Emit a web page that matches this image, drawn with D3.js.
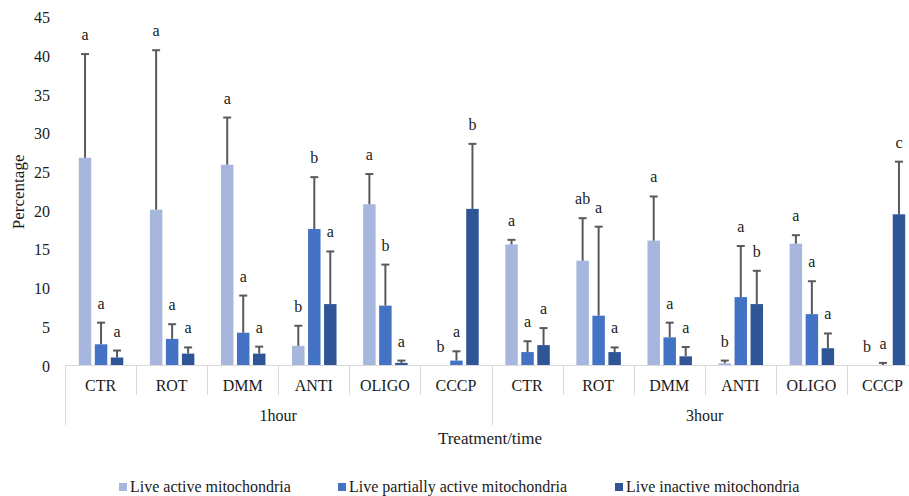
<!DOCTYPE html>
<html>
<head>
<meta charset="utf-8">
<script src="https://cdn.jsdelivr.net/npm/d3@7"></script>
<style>
  body { margin: 0; background: #fff; }
  svg { display: block; }
</style>
</head>
<body>
<div id="chart"></div>
<script>
// chart data
var times = ["1hour", "3hour"];
var treatments = ["CTR", "ROT", "DMM", "ANTI", "OLIGO", "CCCP"];
var seriesNames = ["Live active mitochondria", "Live partially active mitochondria", "Live inactive mitochondria"];

var activeVals   = [26.9, 20.2, 26.0, 2.6, 20.9, 0, 15.7, 13.6, 16.2, 0.35, 15.8, 0];
var activeErr    = [13.4, 20.6, 6.1, 2.6, 3.9, 0, 0.6, 5.5, 5.7, 0.35, 1.1, 0];
var activeSig    = ["a", "a", "a", "b", "a", "b", "a", "ab", "a", "b", "a", "b"];

var partialVals  = [2.8, 3.5, 4.3, 17.7, 7.8, 0.7, 1.8, 6.5, 3.7, 8.9, 6.7, 0.05];
var partialErr   = [2.8, 1.9, 4.8, 6.7, 5.3, 1.2, 1.4, 11.5, 1.9, 6.6, 4.25, 0.35];
var partialSig   = ["a", "a", "a", "b", "b", "a", "a", "a", "a", "a", "a", "a"];

var inactiveVals = [1.1, 1.6, 1.6, 8.0, 0.4, 20.3, 2.7, 1.8, 1.25, 8.0, 2.3, 19.6];
var inactiveErr  = [0.9, 0.8, 0.9, 6.8, 0.3, 8.4, 2.2, 0.6, 1.2, 4.3, 1.9, 6.8];
var inactiveSig  = ["a", "a", "a", "a", "a", "b", "a", "a", "a", "b", "a", "c"];

var yTicks = [0, 5, 10, 15, 20, 25, 30, 35, 40, 45];

var colors = ["#a6b6dc", "#4472c4", "#2f5597"];

(function () {
    var width = 909, height = 496;
    var plotLeft = 65, plotRight = 918, plotTop = 17.7, plotBottom = 366;
    var font = "Liberation Serif";

    var svg = d3.select("#chart").append("svg").attr("width", width).attr("height", height);
    svg.append("rect").attr("width", width).attr("height", height).attr("fill", "#fff");

    // small helper so every label gets the same font treatment
    function txt(sel, size) {
        return sel.style("font-family", font).style("font-size", size + "px").style("fill", "#1a1a1a");
    }

    // one entry per category (time x treatment)
    var cats = [];
    times.forEach(function (t) {
        treatments.forEach(function (tr) { cats.push(t + "|" + tr) })
    })

    var series = [
        { name: seriesNames[0], vals: activeVals, err: activeErr, sig: activeSig },
        { name: seriesNames[1], vals: partialVals, err: partialErr, sig: partialSig },
        { name: seriesNames[2], vals: inactiveVals, err: inactiveErr, sig: inactiveSig }
    ];

    var x0 = d3.scaleBand().domain(cats).range([plotLeft, plotRight]);
    var x1 = d3.scaleBand().domain([0, 1, 2]).range([0, 48]).paddingInner(0.22).paddingOuter(0.11);
    var y = d3.scaleLinear().domain([0, 45]).range([plotBottom, plotTop]);

    function barX(ci, si) {
        return x0(cats[ci]) + x0.bandwidth() / 2 - 24 + x1(si) + 0.5;
    }

    // y tick labels
    txt(svg.append("g").selectAll("text").data(yTicks).enter().append("text")
        .attr("x", 50).attr("y", function (d) { return y(d) + 5.5 })
        .attr("text-anchor", "end")
        .text(function (d) { return d }), 16);

    txt(svg.append("text")
        .attr("transform", "translate(24," + ((plotTop + plotBottom) / 2) + ")rotate(-90)")
        .attr("text-anchor", "middle")
        .text("Percentage"), 17);

    // bars
    series.forEach(function (s, si) {
        svg.append("g").selectAll("rect").data(s.vals).enter().append("rect")
            .attr("x", function (d, i) { return barX(i, si) })
            .attr("y", function (d) { return y(d) })
            .attr("width", x1.bandwidth())
            .attr("height", function (d) { return plotBottom - y(d) })
            .attr("fill", colors[si]);
    });

    // error bars + letters
    series.forEach(function (s, si) {
        var g = svg.append("g");
        s.vals.forEach(function (v, i) {
            var cx = barX(i, si) + x1.bandwidth() / 2;
            var t = v + s.err[i];
            if (s.err[i] > 0) {
                g.append("line").attr("x1", cx).attr("x2", cx)
                    .attr("y1", y(v)).attr("y2", y(t))
                    .attr("stroke", "#595959").attr("stroke-width", 2);
                g.append("line").attr("x1", cx - 4).attr("x2", cx + 4)
                    .attr("y1", y(t)).attr("y2", y(t))
                    .attr("stroke", "#595959").attr("stroke-width", 2);
            }
            txt(g.append("text").attr("x", cx).attr("y", y(t) - 14)
                .attr("text-anchor", "middle")
                .text(s.sig[i]), 16);
        });
    });

    // category axis (two levels)
    var axis = svg.append("g").attr("stroke", "#d9d9d9").attr("stroke-width", 1);
    axis.append("line").attr("x1", plotLeft).attr("x2", plotRight)
        .attr("y1", plotBottom - 0.5).attr("y2", plotBottom - 0.5);
    cats.forEach(function (c, i) {
        var xx = Math.round(x0(c)) + 0.5;
        var long = i % treatments.length === 0;
        axis.append("line").attr("x1", xx).attr("x2", xx)
            .attr("y1", plotBottom - 0.5).attr("y2", long ? 425 : 395);
    });

    txt(svg.append("g").selectAll("text").data(cats).enter().append("text")
        .attr("x", function (d) { return x0(d) + x0.bandwidth() / 2 })
        .attr("y", 391).attr("text-anchor", "middle")
        .text(function (d) { return d.split("|")[1] }), 16);

    txt(svg.append("g").selectAll("text").data(times).enter().append("text")
        .attr("x", function (t, k) {
            var a = x0(cats[k * treatments.length]);
            var b = x0(cats[(k + 1) * treatments.length - 1]) + x0.bandwidth();
            return (a + b) / 2;
        })
        .attr("y", 421).attr("text-anchor", "middle")
        .text(function (d) { return d }), 16);

    txt(svg.append("text").attr("x", 490).attr("y", 444)
        .attr("text-anchor", "middle")
        .text("Treatment/time"), 17);

    // legend
    var legendX = [119, 338, 615];
    var leg = svg.append("g");
    seriesNames.forEach(function (n, i) {
        leg.append("rect").attr("x", legendX[i]).attr("y", 483).attr("width", 8).attr("height", 8).attr("fill", colors[i]);
        txt(leg.append("text").attr("x", legendX[i] + 11).attr("y", 492).text(n), 16);
    });
})();
</script>
</body>
</html>
